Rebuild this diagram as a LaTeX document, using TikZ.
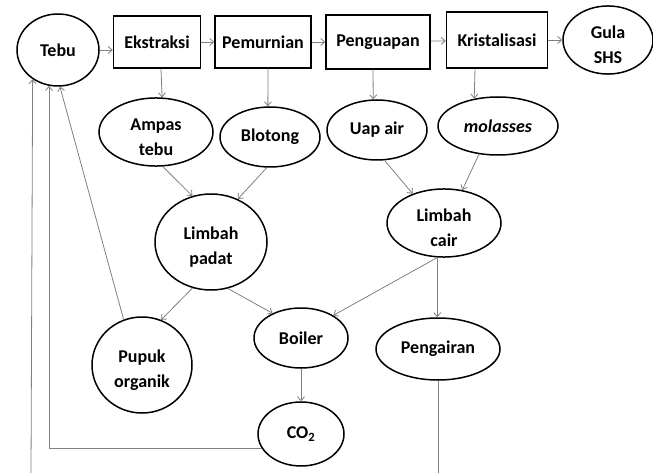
\documentclass[tikz,border=0pt]{standalone}
\usepackage{fontspec}
\setmainfont{Carlito}
\usetikzlibrary{shapes.geometric,arrows.meta}
\newcommand{\atas}{\rule{0pt}{23pt}}

\begin{document}
\begin{tikzpicture}[x=1pt,y=-1pt,
  proses/.style={draw=black,line width=1.5pt,font=\fontsize{18}{25}\selectfont\bfseries,inner sep=0pt},
  hasil/.style={ellipse,draw=black,line width=1.5pt,font=\fontsize{18}{25}\selectfont\bfseries,align=center,inner sep=0pt},
  panah/.style={-{Straight Barb[length=4pt,width=7pt]},draw=gray,line width=0.8pt}]
\useasboundingbox (0,0) rectangle (653,473);

% proses utama
\node[hasil,minimum width=82pt,minimum height=72pt] (tebu) at (58,50) {Tebu};
\node[proses,minimum width=87pt,minimum height=52pt] (ekstraksi) at (157,42) {Ekstraksi};
\node[proses,minimum width=96pt,minimum height=52pt] (pemurnian) at (263,42) {Pemurnian};
\node[proses,minimum width=104pt,minimum height=54pt] (penguapan) at (378,42) {Penguapan};
\node[proses,minimum width=101pt,minimum height=56pt] (kristalisasi) at (497,40) {Kristalisasi};
\node[hasil,minimum width=90pt,minimum height=57pt] (gula) at (608,40) {\atas Gula\\SHS};

% hasil samping
\node[hasil,minimum width=114pt,minimum height=60pt] (ampas) at (156,132) {\atas Ampas\\tebu};
\node[hasil,minimum width=100pt,minimum height=60pt] (blotong) at (270,137) {Blotong};
\node[hasil,minimum width=100pt,minimum height=60pt] (uap) at (377,130) {Uap air};
\node[hasil,minimum width=120pt,minimum height=58pt] (molasses) at (498,126) {\textit{molasses}};

% limbah
\node[hasil,minimum width=112pt,minimum height=96pt] (padat) at (211,242) {\atas Limbah\\padat};
\node[hasil,minimum width=114pt,minimum height=60pt] (cair) at (444,223) {\atas Limbah\\cair};
\node[hasil,minimum width=100pt,minimum height=96pt] (pupuk) at (142,365) {\atas Pupuk\\organik};
\node[hasil,minimum width=94pt,minimum height=60pt] (boiler) at (301,338) {Boiler};
\node[hasil,minimum width=86pt,minimum height=64pt] (co2) at (301,434) {CO\textsubscript{2}};
\node[hasil,minimum width=124pt,minimum height=62pt] (pengairan) at (438,349) {Pengairan};

\coordinate (kiri) at (31,473);

\draw[panah] (tebu.east) -- (tebu.east -| ekstraksi.west);
\draw[panah] (ekstraksi) -- (pemurnian);
\draw[panah] (pemurnian) -- (penguapan);
\draw[panah] (penguapan) -- (kristalisasi);
\draw[panah] (kristalisasi.east) -- (kristalisasi.east -| gula.west);

\draw[panah] ([xshift=4]ekstraksi.south) -- (ampas.80);
\draw[panah] ([xshift=5]pemurnian.south) -- (blotong.94);
\draw[panah] ([xshift=-5]penguapan.south) -- (uap.97);
\draw[panah] ([xshift=-22]kristalisasi.south) -- (molasses.131);

\draw[panah] (ampas.-79) -- (padat.112);
\draw[panah] (blotong.-96) -- (padat.58);
\draw[panah] (uap.-76) -- (cair.137);
\draw[panah] (molasses.-124) -- (cair.61);

\draw[panah] (padat.-112) -- (pupuk.67);
\draw[panah] (padat.-70) -- (boiler.139);
\draw[panah] (cair.-101) -- (boiler.35);
\draw[panah] (cair.-101) -- (cair.-101 |- pengairan.north);
\draw[panah] (boiler) -- (co2);

\draw[panah] (pupuk.112) -- (tebu.-87);
\draw[panah] (co2.-160) -| (tebu.-104);
\draw[panah] (kiri) -- (tebu.-131);
\draw[draw=gray,line width=0.8pt] (pengairan.south) -- (pengairan.south |- kiri);

\end{tikzpicture}
\end{document}
